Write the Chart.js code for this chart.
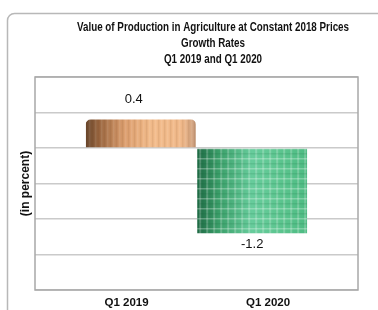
<!DOCTYPE html>
<html>
<head>
<meta charset="utf-8">
<script src="https://cdn.jsdelivr.net/npm/chart.js@4/dist/chart.umd.min.js"></script>
<style>
html, body { margin: 0; padding: 0; background: #fff; }
canvas { display: block; }
</style>
</head>
<body>
<canvas id="growthChart" width="378" height="310"></canvas>
<script>
const categories = ['Q1 2019', 'Q1 2020'];
const growthRates = [0.4, -1.2];
const valueLabels = ['0.4', '-1.2'];
const titleLines = [
    'Value of Production in Agriculture at Constant 2018 Prices',
    'Growth Rates',
    'Q1 2019 and Q1 2020'
];
const yTitle = '(in percent)';

const sans = '"Liberation Sans", Arial, sans-serif';
const BAR_PCT = 0.99;

// gradient + texture for each bar, painted on a small offscreen canvas
function makeBarFill(chart, index) {
    const area = chart.chartArea;
    const xs = chart.scales.x;
    if (!area || !xs) return index === 0 ? '#e8aa78' : '#50c08a';
    const step = Math.abs(xs.getPixelForValue(2) - xs.getPixelForValue(1));
    const w = Math.max(1, Math.round(step * BAR_PCT));
    const h = Math.max(1, Math.round(area.bottom - area.top));
    const left = xs.getPixelForValue(index + 1) - w / 2;

    const off = document.createElement('canvas');
    off.width = w;
    off.height = h;
    const c = off.getContext('2d');
    const g = c.createLinearGradient(0, 0, w, 0);
    if (index === 0) {
        g.addColorStop(0, '#6a472d');
        g.addColorStop(0.12, '#9a663f');
        g.addColorStop(0.35, '#dc9e6e');
        g.addColorStop(0.6, '#f3bc8b');
        g.addColorStop(0.88, '#f1b98a');
        g.addColorStop(1, '#c89c7c');
    } else {
        g.addColorStop(0, '#1e6a44');
        g.addColorStop(0.2, '#3a9f69');
        g.addColorStop(0.5, '#67cc9c');
        g.addColorStop(0.75, '#5cc58f');
        g.addColorStop(1, '#4dbb82');
    }
    c.fillStyle = g;
    c.fillRect(0, 0, w, h);

    if (index === 0) {
        for (let x = 0; x < w; x += 3) {
            c.fillStyle = (x / 3) % 2 ? 'rgba(255,255,255,0.10)' : 'rgba(90,50,20,0.10)';
            c.fillRect(x, 0, 1.5, h);
        }
    } else {
        for (let x = 2; x < w; x += 7) {
            c.fillStyle = 'rgba(255,255,255,0.22)';
            c.fillRect(x, 0, 2, h);
        }
        for (let y = 1; y < h; y += 5) {
            c.fillStyle = (y % 2) ? 'rgba(255,255,255,0.28)' : 'rgba(20,90,50,0.12)';
            c.fillRect(0, y, w, 1.5);
        }
    }
    const pat = chart.ctx.createPattern(off, 'no-repeat');
    pat.setTransform(new DOMMatrix().translate(left, area.top));
    return pat;
}

const chartFrame = {
    id: 'chartFrame',
    beforeDraw(chart) {
        const ctx = chart.ctx;
        ctx.save();
        ctx.strokeStyle = '#b8b8b8';
        ctx.lineWidth = 1.5;
        ctx.beginPath();
        ctx.roundRect(7.5, 13.5, 420, 330, 7);
        ctx.stroke();
        ctx.restore();
    },
    beforeDatasetsDraw(chart) {
        const { ctx, chartArea: a } = chart;
        ctx.save();
        ctx.strokeStyle = '#a8a8a8';
        ctx.lineWidth = 1.5;
        ctx.strokeRect(a.left, a.top, a.right - a.left, a.bottom - a.top);
        ctx.restore();
    },
    afterDraw(chart) {
        const ctx = chart.ctx;
        ctx.save();
        ctx.fillStyle = '#111';
        ctx.textAlign = 'center';
        ctx.textBaseline = 'middle';
        // condensed look: squeeze the bold title to the width of the original
        ctx.font = 'bold 12px ' + sans;
        const squeeze = 272 / ctx.measureText(titleLines[0]).width;
        titleLines.forEach((line, i) => {
            ctx.fillText(line, 213, 28 + i * 16, ctx.measureText(line).width * squeeze);
        });

        ctx.font = '13px ' + sans;
        const meta = chart.getDatasetMeta(0);
        meta.data.forEach((bar, i) => {
            if (growthRates[i] >= 0) {
                ctx.textBaseline = 'bottom';
                ctx.fillText(valueLabels[i], bar.x - 7, bar.y - 14, 20);
            } else {
                ctx.textBaseline = 'top';
                ctx.fillText(valueLabels[i], bar.x, bar.y + 5, 24);
            }
        });
        ctx.restore();
    }
};

const growthChart = new Chart(document.getElementById('growthChart'), {
    type: 'bar',
    data: {
        labels: categories,
        datasets: [{
            label: 'Growth rate',
            data: growthRates.map((v, i) => ({ x: i + 1, y: v })),
            backgroundColor: (c) => makeBarFill(c.chart, c.dataIndex),
            borderWidth: 0,
            borderRadius: (c) => c.dataIndex === 0
                ? { topLeft: 5, topRight: 5, bottomLeft: 0, bottomRight: 0 }
                : 0,
            barPercentage: BAR_PCT,
            categoryPercentage: 1
        }]
    },
    options: {
        responsive: false,
        animation: false,
        layout: { padding: { top: 77, right: 20, left: 0, bottom: 0 } },
        plugins: {
            legend: { display: false },
            tooltip: { enabled: false },
            title: { display: false }
        },
        scales: {
            x: {
                type: 'linear',
                min: 0.05,
                max: 2.95,
                offset: false,
                display: false,
                ticks: { stepSize: 1 },
                afterBuildTicks: (s) => {
                    s.ticks = s.ticks.filter((t) => Number.isInteger(t.value));
                }
            },
            x2: {
                type: 'linear',
                position: 'bottom',
                min: 0.353,
                max: 2.636,
                offset: false,
                grid: { display: false, drawTicks: false },
                border: { display: false },
                ticks: {
                    stepSize: 1,
                    autoSkip: false,
                    maxRotation: 0,
                    padding: 6,
                    color: '#111',
                    font: { family: sans, size: 11.5, weight: 'bold' },
                    callback: (v) => categories[v - 1] ?? ''
                },
                afterFit: (s) => { s.height = 20; }
            },
            y: {
                min: -2,
                max: 1,
                ticks: { display: false, stepSize: 0.5 },
                grid: { color: '#cacaca', lineWidth: 1.5, drawTicks: false },
                border: { display: false },
                title: {
                    display: true,
                    text: yTitle,
                    color: '#111',
                    font: { family: sans, size: 12, weight: 'bold' },
                    padding: { top: 18, bottom: 0 }
                },
                afterFit: (s) => { s.width = 35; }
            }
        }
    },
    plugins: [chartFrame]
});
</script>
</body>
</html>
